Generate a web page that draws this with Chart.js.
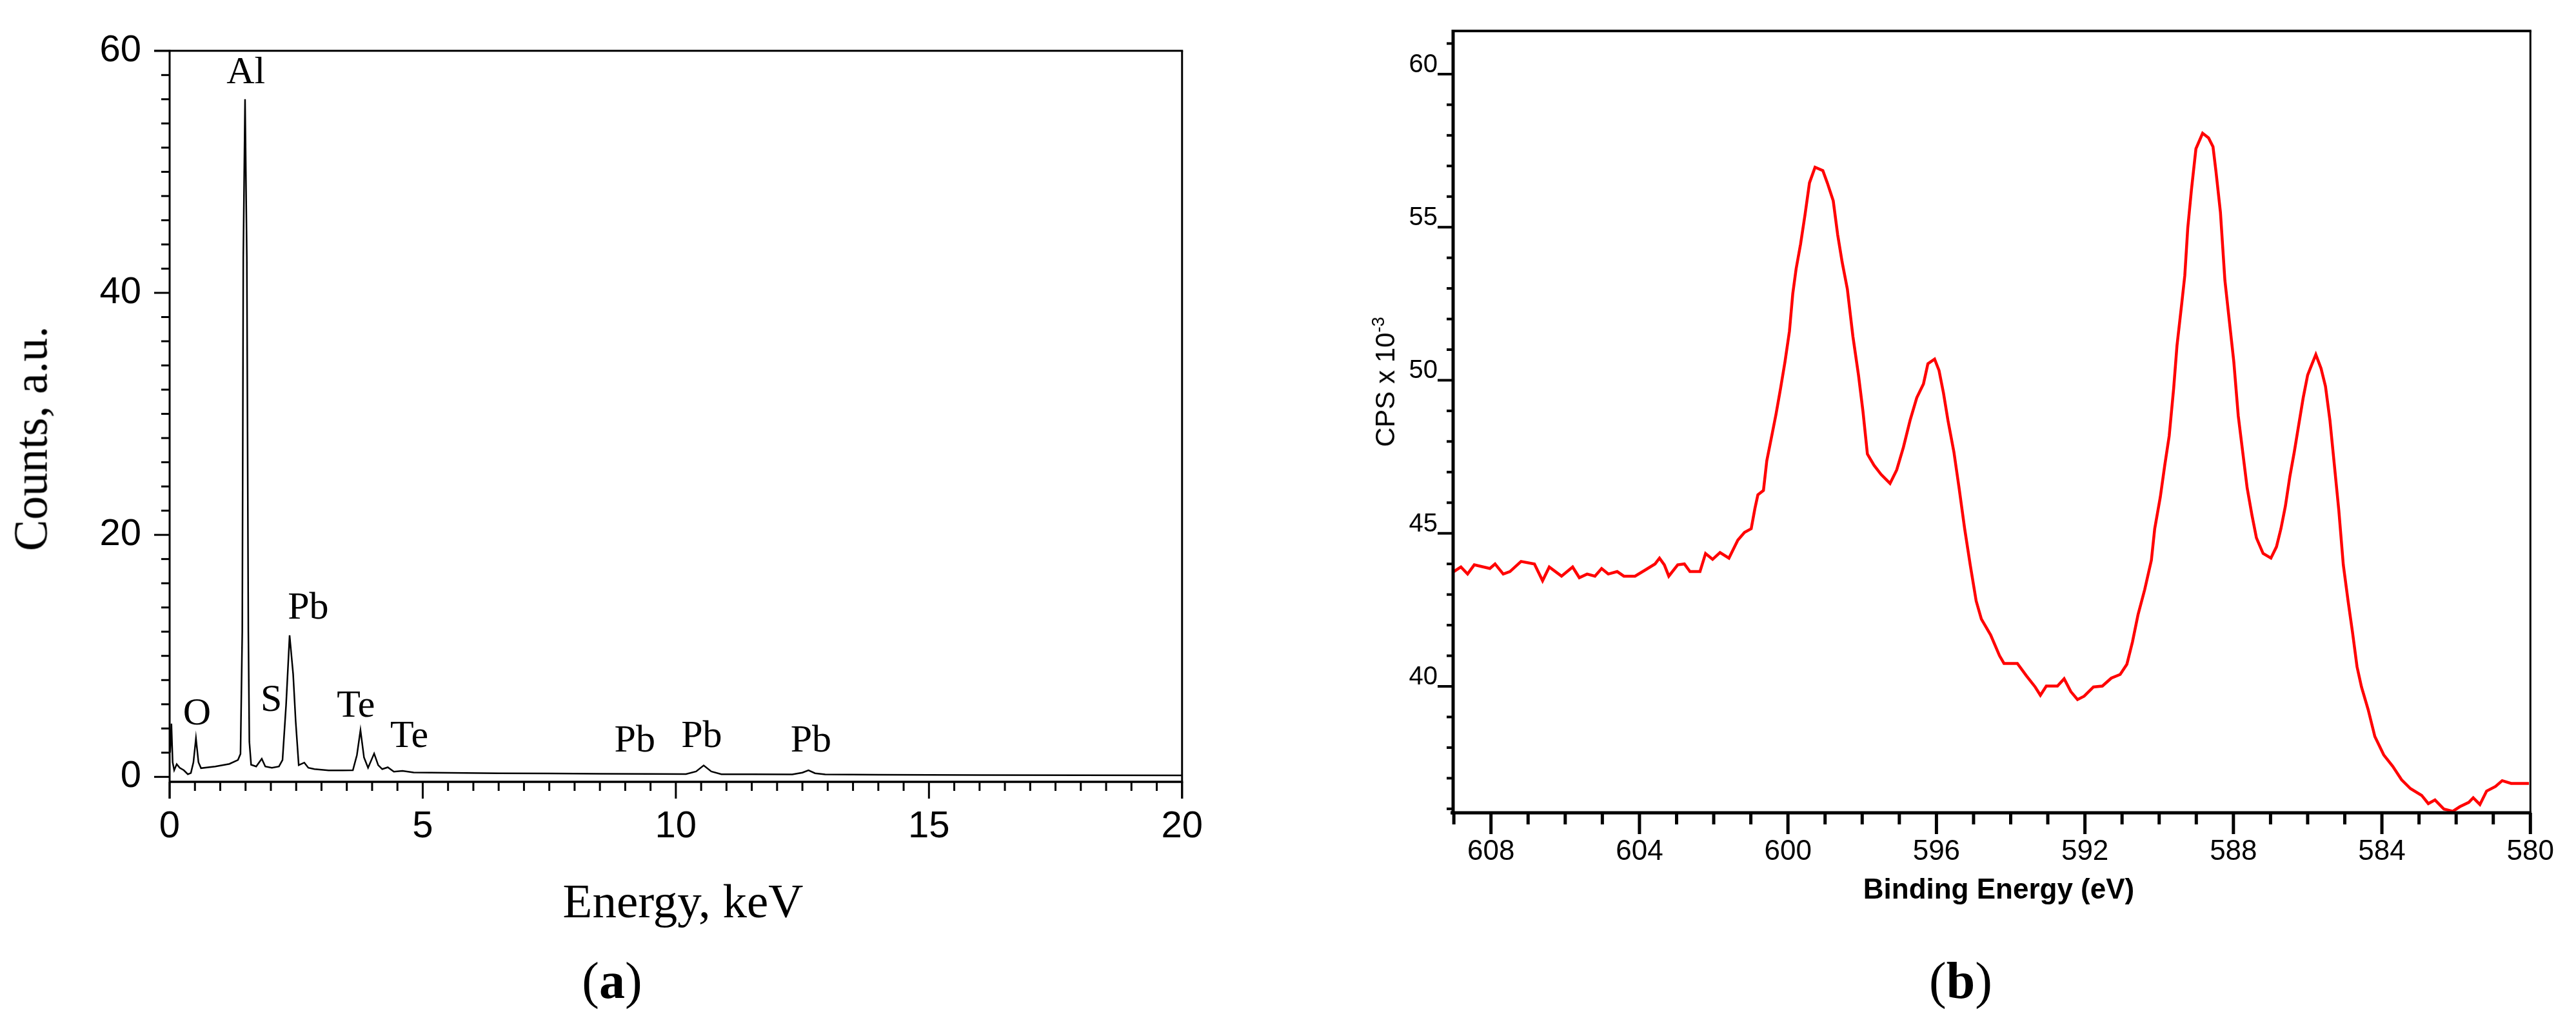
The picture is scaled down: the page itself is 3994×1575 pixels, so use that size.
<!DOCTYPE html>
<html><head><meta charset="utf-8">
<script src="https://cdn.jsdelivr.net/npm/chart.js@4.4.1/dist/chart.umd.min.js"></script>
<style>
html,body{margin:0;padding:0;background:#fff;width:3994px;height:1575px;overflow:hidden;position:relative}
.box{position:absolute}
.t{position:absolute;white-space:nowrap;line-height:1;color:#000;transform:translate(-50%,-50%)}
.serif{font-family:"Liberation Serif","Times New Roman",serif}
.sans{font-family:"Liberation Sans",Arial,sans-serif}
</style></head><body>
<div class="box" style="left:0;top:0;width:1900px;height:1330px"><canvas id="ca"></canvas></div>
<div class="box" style="left:2100px;top:0;width:1894px;height:1360px"><canvas id="cb"></canvas></div>

<div class="t serif" style="left:48px;top:680px;font-size:73px;transform:translate(-50%,-50%) rotate(-90deg)">Counts, a.u.</div>
<div class="t serif" style="left:1059px;top:1396px;font-size:75px">Energy, keV</div>
<div class="t serif" style="left:949px;top:1520px;font-size:80px">(<b>a</b>)</div>

<div class="t sans" style="left:2148px;top:592px;font-size:42px;transform:translate(-50%,-50%) rotate(-90deg)">CPS x 10<span style="font-size:0.65em;position:relative;top:-0.6em">-3</span></div>
<div class="t sans" style="left:3099px;top:1378px;font-size:44px;font-weight:bold">Binding Energy (eV)</div>
<div class="t serif" style="left:3040px;top:1520px;font-size:80px">(<b>b</b>)</div>

<script>
// ---------- Panel (a): EDS spectrum ----------
const edsEnergy = [0.01,0.035,0.06,0.09,0.14,0.20,0.28,0.36,0.42,0.47,0.52,0.57,0.62,0.90,1.18,1.35,1.40,1.435,1.455,1.49,1.525,1.555,1.575,1.61,1.71,1.82,1.89,2.02,2.16,2.23,2.30,2.37,2.44,2.49,2.55,2.66,2.74,2.86,3.14,3.42,3.62,3.70,3.77,3.84,3.92,4.04,4.12,4.20,4.31,4.43,4.60,4.82,5.5,6.5,7.5,8.5,9.5,10.2,10.4,10.55,10.7,10.9,11.5,12.3,12.5,12.62,12.75,12.95,14,16,18,20];
const edsCounts = [2.0,4.4,1.2,0.55,1.05,0.75,0.55,0.22,0.32,1.2,3.2,1.2,0.72,0.86,1.07,1.4,1.9,12,43,56,43,12,2.9,1.0,0.86,1.5,0.86,0.75,0.86,1.4,5.9,11.7,8.5,4.6,0.97,1.18,0.75,0.64,0.54,0.54,0.55,1.8,3.86,1.6,0.75,1.93,0.97,0.64,0.79,0.43,0.49,0.36,0.33,0.30,0.28,0.25,0.24,0.23,0.45,0.95,0.45,0.22,0.21,0.20,0.35,0.55,0.30,0.20,0.18,0.15,0.14,0.12];
const edsXTicks = [0,5,10,15,20];
const edsYTicks = [0,20,40,60];
const peakNames = ['Al','Pb','S','O','Te','Te','Pb','Pb','Pb'];
const peakE = [1.507,2.737,2.009,0.540,3.679,4.733,9.19,10.51,12.67];
const peakC = [58.18,13.92,6.31,5.18,5.80,3.31,2.95,3.31,2.95];

// ---------- Panel (b): XPS Te 3d ----------
const xpsBE = [609.0,608.81,608.63,608.45,608.03,607.89,607.67,607.49,607.19,606.83,606.61,606.43,606.10,605.80,605.62,605.41,605.20,605.02,604.84,604.60,604.42,604.12,603.82,603.58,603.46,603.33,603.21,602.97,602.79,602.64,602.37,602.22,602.03,601.83,601.59,601.35,601.17,600.99,600.89,600.81,600.66,600.57,600.45,600.32,600.20,600.08,599.96,599.87,599.78,599.66,599.54,599.42,599.27,599.06,598.94,598.78,598.66,598.54,598.40,598.25,598.10,597.98,597.86,597.68,597.49,597.25,597.07,596.89,596.71,596.53,596.35,596.23,596.05,595.93,595.81,595.69,595.53,595.39,595.24,595.09,594.93,594.79,594.54,594.30,594.18,593.82,593.58,593.34,593.20,593.04,592.74,592.56,592.38,592.20,592.02,591.77,591.53,591.29,591.05,590.87,590.72,590.57,590.39,590.21,590.12,589.97,589.85,589.73,589.61,589.52,589.39,589.31,589.23,589.13,589.01,588.83,588.67,588.55,588.47,588.35,588.23,588.11,587.99,587.87,587.75,587.63,587.50,587.38,587.20,586.99,586.84,586.72,586.60,586.48,586.36,586.24,586.12,586.00,585.88,585.78,585.64,585.52,585.40,585.28,585.16,585.04,584.91,584.79,584.67,584.55,584.37,584.19,583.95,583.71,583.47,583.23,582.93,582.75,582.57,582.33,582.09,581.90,581.66,581.54,581.36,581.18,580.94,580.76,580.52,580.04];
const xpsCPS = [43.75,43.9,43.67,43.97,43.85,44.0,43.67,43.75,44.08,44.0,43.45,43.9,43.6,43.9,43.55,43.67,43.6,43.85,43.67,43.75,43.6,43.6,43.82,44.0,44.19,43.97,43.6,43.97,44.0,43.75,43.75,44.34,44.15,44.37,44.19,44.78,45.03,45.15,45.81,46.26,46.4,47.37,48.1,48.9,49.73,50.6,51.6,52.83,53.64,54.45,55.41,56.45,56.96,56.85,56.45,55.86,54.75,53.86,52.98,51.43,50.17,48.99,47.59,47.22,46.92,46.63,47.07,47.81,48.69,49.43,49.88,50.54,50.69,50.32,49.58,48.69,47.66,46.48,45.15,43.97,42.79,42.2,41.68,41.0,40.75,40.75,40.35,39.98,39.71,40.01,40.01,40.25,39.83,39.57,39.68,39.98,40.01,40.27,40.39,40.72,41.45,42.34,43.16,44.12,45.15,46.18,47.22,48.18,49.73,51.13,52.53,53.42,54.97,56.23,57.56,58.07,57.92,57.63,56.82,55.49,53.27,51.94,50.61,48.84,47.66,46.48,45.59,44.85,44.34,44.19,44.56,45.15,45.89,46.85,47.66,48.55,49.43,50.17,50.54,50.84,50.39,49.8,48.69,47.22,45.74,43.97,42.78,41.75,40.64,39.98,39.24,38.36,37.76,37.39,36.95,36.66,36.44,36.17,36.29,35.99,35.92,36.07,36.21,36.36,36.14,36.58,36.73,36.92,36.83,36.83];
const xpsXTicks = [608,604,600,596,592,588,584,580];
const xpsYTicks = [40,45,50,55,60];

function isMajor(v, step){ const r = v/step; return Math.abs(r - Math.round(r)) < 1e-6; }

function axesPlugin(o){
  return {
    id: 'axes_' + o.name,
    afterDatasetsDraw(chart){
      const {ctx, chartArea:a, scales:{x, y}} = chart;
      ctx.save();
      ctx.strokeStyle = '#000';
      ctx.lineCap = 'butt';
      const line = (x1,y1,x2,y2,w) => { ctx.lineWidth = w; ctx.beginPath(); ctx.moveTo(x1,y1); ctx.lineTo(x2,y2); ctx.stroke(); };
      for (let k = 0; ; k++){
        const v = o.yFrom + k*o.yStep; if (v > o.yTo + 1e-9) break;
        const py = y.getPixelForValue(v);
        line(a.left, py, a.left - (isMajor(v,o.yMajor) ? o.yMajLen : o.yMinLen), py, o.yTickW);
      }
      for (let k = 0; ; k++){
        const v = o.xFrom + k*o.xStep; if (v > o.xTo + 1e-9) break;
        const px = x.getPixelForValue(v);
        line(px, a.bottom, px, a.bottom + (isMajor(v,o.xMajor) ? o.xMajLen : o.xMinLen), o.xTickW);
      }
      line(a.left, a.top - o.topW/2, a.left, a.bottom + o.leftExt, o.leftW);
      line(a.left - o.bottomExtL, a.bottom, a.right + o.rightW/2, a.bottom, o.bottomW);
      line(a.left - o.topExtL, a.top, a.right + o.rightW/2, a.top, o.topW);
      line(a.right, a.top, a.right, a.bottom + o.rightExt, o.rightW);
      ctx.restore();
    }
  };
}

const peakLabels = {
  id: 'peakLabels',
  afterDatasetsDraw(chart){
    const {ctx, scales:{x, y}} = chart;
    ctx.save();
    ctx.fillStyle = '#000';
    ctx.font = '60px "Liberation Serif", "Times New Roman", serif';
    ctx.textAlign = 'center';
    ctx.textBaseline = 'middle';
    peakNames.forEach((n,i) => ctx.fillText(n, x.getPixelForValue(peakE[i]), y.getPixelForValue(peakC[i])));
    ctx.restore();
  }
};

Chart.defaults.font.family = '"Liberation Sans", Arial, sans-serif';
Chart.defaults.color = '#000';

new Chart(document.getElementById('ca'), {
  type: 'line',
  data: { datasets: [{
    data: edsEnergy.map((e,i) => ({x:e, y:edsCounts[i]})),
    borderColor: '#000', borderWidth: 2.5, pointRadius: 0, tension: 0, fill: false
  }]},
  options: {
    responsive: true, maintainAspectRatio: false, devicePixelRatio: 1, animation: false,
    layout: { padding: { top: 45, right: 44, left: 0, bottom: 0 } },
    plugins: { legend: {display:false}, tooltip: {enabled:false} },
    scales: {
      x: { type: 'linear', min: 0, max: 20,
        afterBuildTicks: s => { s.ticks = edsXTicks.map(v => ({value:v})); },
        afterFit: s => { s.height = 118; },
        grid: { display:false, drawTicks:false }, border: { display:false },
        ticks: { padding: 35, autoSkip:false, maxRotation:0, font:{size:58}, color:'#000', callback: v => String(v) } },
      y: { type: 'linear', min: -0.41, max: 60,
        afterBuildTicks: s => { s.ticks = edsYTicks.map(v => ({value:v})); },
        afterFit: s => { s.width = 263; },
        grid: { display:false, drawTicks:false }, border: { display:false },
        ticks: { padding: 44, autoSkip:false, font:{size:58}, color:'#000', callback: v => String(v) } }
    }
  },
  plugins: [axesPlugin({name:'a', yFrom:0, yTo:60, yStep:2, yMajor:20, yMajLen:24, yMinLen:13, yTickW:3,
    xFrom:0, xTo:20, xStep:0.5, xMajor:5, xMajLen:26, xMinLen:14, xTickW:3,
    leftW:3, bottomW:3.5, topW:3, rightW:3, leftExt:26, rightExt:26, bottomExtL:0, topExtL:24}), peakLabels]
});

new Chart(document.getElementById('cb'), {
  type: 'line',
  data: { datasets: [{
    data: xpsBE.map((e,i) => ({x:e, y:xpsCPS[i]})),
    borderColor: '#ff0000', borderWidth: 4.5, pointRadius: 0, tension: 0, fill: false
  }]},
  options: {
    responsive: true, maintainAspectRatio: false, devicePixelRatio: 1, animation: false,
    layout: { padding: { top: 47, right: 51, left: 0, bottom: 0 } },
    plugins: { legend: {display:false}, tooltip: {enabled:false} },
    scales: {
      x: { type: 'linear', min: 580, max: 609.02, reverse: true,
        afterBuildTicks: s => { s.ticks = xpsXTicks.map(v => ({value:v})); },
        afterFit: s => { s.height = 100; },
        grid: { display:false, drawTicks:false }, border: { display:false },
        ticks: { padding: 34, autoSkip:false, maxRotation:0, font:{size:44}, color:'#000', callback: v => String(v) } },
      y: { type: 'linear', min: 35.87, max: 61.41,
        afterBuildTicks: s => { s.ticks = xpsYTicks.map(v => ({value:v})); },
        afterFit: s => { s.width = 153; },
        grid: { display:false, drawTicks:false }, border: { display:false },
        ticks: { padding: 24, labelOffset: -14, autoSkip:false, font:{size:40}, color:'#000', callback: v => String(v) } }
    }
  },
  plugins: [axesPlugin({name:'b', yFrom:36, yTo:61, yStep:1, yMajor:5, yMajLen:24, yMinLen:10, yTickW:4,
    xFrom:580, xTo:609, xStep:1, xMajor:4, xMajLen:33, xMinLen:18, xTickW:5,
    leftW:5, bottomW:5, topW:4, rightW:3, leftExt:2.5, rightExt:2.5, bottomExtL:4, topExtL:0})]
});
</script>
</body></html>
